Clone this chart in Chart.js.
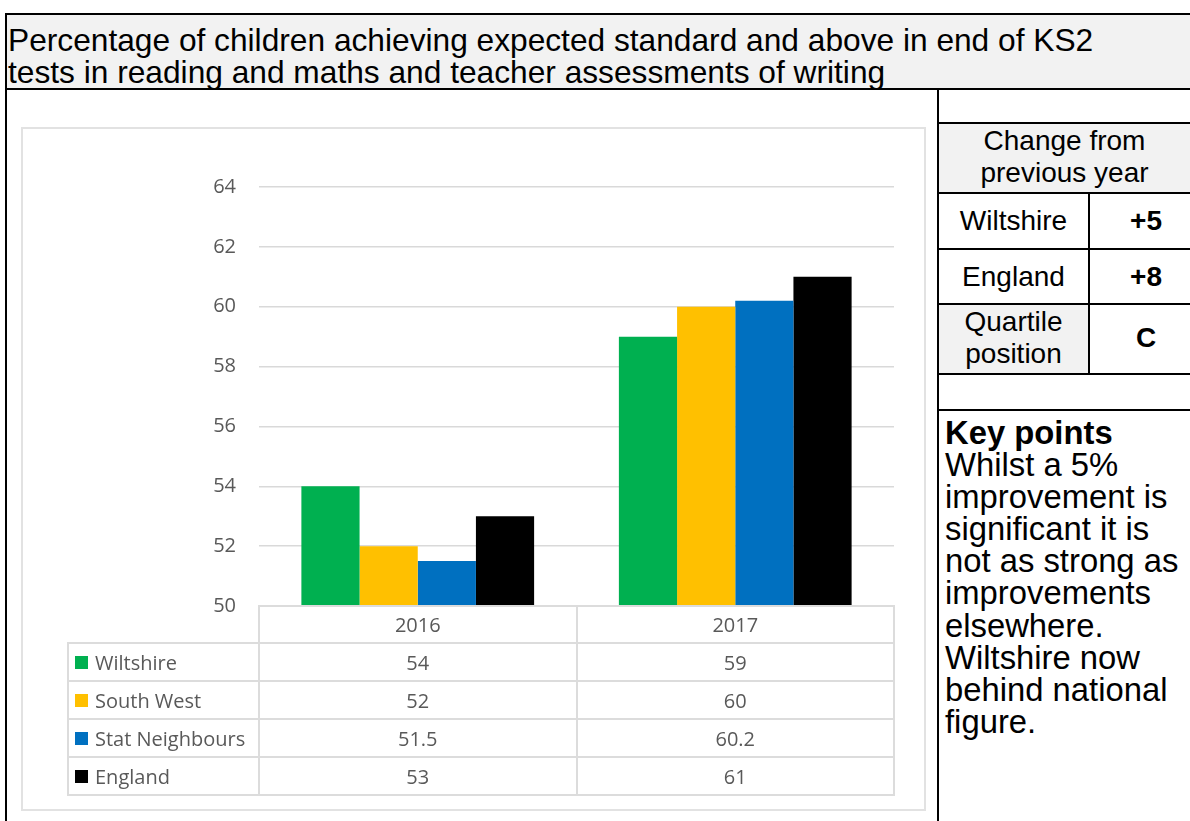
<!DOCTYPE html>
<html>
<head>
<meta charset="utf-8">
<script src="https://cdn.jsdelivr.net/npm/chart.js@4.4.1/dist/chart.umd.min.js"></script>
<style>
html,body{margin:0;padding:0;background:#fff;}
body{width:1190px;height:821px;overflow:hidden;position:relative;font-family:"Liberation Sans",Arial,sans-serif;color:#000;}
.ln{position:absolute;background:#000;}
.gray{position:absolute;background:#f2f2f2;}
.txt{position:absolute;white-space:nowrap;}
#title{left:8px;top:24px;font-size:31.7px;line-height:32px;}
.rc{font-size:28px;line-height:32px;text-align:center;}
#key{left:945px;top:417px;font-size:32.8px;line-height:32.1px;}
#box{position:absolute;left:21px;top:127px;width:901px;height:680px;border:2px solid #e2e2e2;}
#box canvas{position:absolute;left:0;top:0;}
.cell{position:absolute;box-sizing:border-box;border:2px solid #dcdcdc;display:flex;align-items:center;justify-content:center;font-family:"Open Sans",sans-serif;font-size:20px;color:#595959;white-space:nowrap;}
.cell.lab{justify-content:flex-start;padding-left:6px;}
.sw{display:inline-block;width:13px;height:13px;margin-right:7px;}
</style>
</head>
<body>
<!-- frame -->
<div class="gray" style="left:7px;top:15px;width:1183px;height:73px;"></div>
<div class="ln" style="left:5px;top:13px;width:1185px;height:2px;"></div>
<div class="ln" style="left:5px;top:13px;width:2px;height:808px;"></div>
<div class="ln" style="left:5px;top:88px;width:1185px;height:2px;"></div>
<div class="txt" id="title">Percentage of children achieving expected standard and above in end of KS2<br>tests in reading and maths and teacher assessments of writing</div>

<!-- right column -->
<div class="gray" style="left:939px;top:124px;width:251px;height:68px;"></div>
<div class="gray" style="left:939px;top:305px;width:149px;height:68px;"></div>
<div class="ln" style="left:937px;top:88px;width:2px;height:733px;"></div>
<div class="ln" style="left:937px;top:122px;width:253px;height:2px;"></div>
<div class="ln" style="left:937px;top:192px;width:253px;height:2px;"></div>
<div class="ln" style="left:937px;top:248px;width:253px;height:2px;"></div>
<div class="ln" style="left:937px;top:303px;width:253px;height:2px;"></div>
<div class="ln" style="left:937px;top:373px;width:253px;height:2px;"></div>
<div class="ln" style="left:937px;top:409px;width:253px;height:2px;"></div>
<div class="ln" style="left:1088px;top:192px;width:2px;height:183px;"></div>

<div class="txt rc" style="left:939px;top:125px;width:251px;">Change from<br>previous year</div>
<div class="txt rc" style="left:939px;top:205px;width:149px;">Wiltshire</div>
<div class="txt rc" style="left:1090px;top:205px;width:112px;font-weight:bold;">+5</div>
<div class="txt rc" style="left:939px;top:261px;width:149px;">England</div>
<div class="txt rc" style="left:1090px;top:261px;width:112px;font-weight:bold;">+8</div>
<div class="txt rc" style="left:939px;top:306px;width:149px;">Quartile<br>position</div>
<div class="txt rc" style="left:1090px;top:322px;width:112px;font-weight:bold;">C</div>

<div class="txt" id="key"><b>Key points</b><br>Whilst a 5%<br>improvement is<br>significant it is<br>not as strong as<br>improvements<br>elsewhere.<br>Wiltshire now<br>behind national<br>figure.</div>

<!-- chart -->
<div id="box"><canvas id="c" width="901" height="680" style="width:901px;height:680px;"></canvas></div>

<script>
// ---- data ----
const categories = ['2016', '2017'];
const seriesNames = ['Wiltshire', 'South West', 'Stat Neighbours', 'England'];
const wiltshire = [54, 59];
const southWest = [52, 60];
const statNeighbours = [51.5, 60.2];
const england = [53, 61];
const yMin = 50, yMax = 64, yStep = 2;
const tableValues = [['54', '59'], ['52', '60'], ['51.5', '60.2'], ['53', '61']];

// ---- styles ----
const seriesColors = ['#00B050', '#FFC000', '#0070C0', '#000000'];
const seriesValues = [wiltshire, southWest, statNeighbours, england];

const chart = new Chart(document.getElementById('c'), {
  type: 'bar',
  data: {
    labels: categories,
    datasets: seriesNames.map((n, i) => ({
      label: n,
      data: seriesValues[i],
      backgroundColor: seriesColors[i],
      borderWidth: 0,
      categoryPercentage: 0.733,
      barPercentage: 1.0
    }))
  },
  options: {
    responsive: false,
    animation: false,
    layout: { padding: { left: 0, right: 30, top: 58, bottom: 203 } },
    plugins: { legend: { display: false }, tooltip: { enabled: false } },
    scales: {
      x: { display: false },
      y: {
        min: yMin, max: yMax,
        ticks: { stepSize: yStep, color: '#595959', font: { family: 'Open Sans', size: 20 }, padding: 23 },
        grid: { color: '#d9d9d9', lineWidth: 1.5, drawTicks: false },
        border: { display: false },
        afterFit(s) { s.width = 236; }
      }
    }
  }
});

// ---- data table under the chart, aligned to the library's scales ----
(function buildTable() {
  const box = document.getElementById('box');
  const ca = chart.chartArea;
  const xs = chart.scales.x;
  const c0 = xs.getPixelForValue(0), c1 = xs.getPixelForValue(1);
  const half = (c1 - c0) / 2;
  const edges = [c0 - half, c0 + half, c1 + half];
  const headH = 37, rowH = 38, labW = 191;
  function cell(x, y, w, h, html, cls) {
    const d = document.createElement('div');
    d.className = 'cell' + (cls ? ' ' + cls : '');
    d.style.left = (x - 1) + 'px';
    d.style.top = (y - 1) + 'px';
    d.style.width = (w + 2) + 'px';
    d.style.height = (h + 2) + 'px';
    d.innerHTML = html;
    box.appendChild(d);
  }
  categories.forEach((c, i) => cell(edges[i], ca.bottom, edges[i + 1] - edges[i], headH, c));
  seriesNames.forEach((n, r) => {
    const y = ca.bottom + headH + r * rowH;
    cell(ca.left - labW, y, labW, rowH,
      '<span class="sw" style="background:' + seriesColors[r] + '"></span>' + n, 'lab');
    categories.forEach((c, i) => cell(edges[i], y, edges[i + 1] - edges[i], rowH, tableValues[r][i]));
  });
})();
</script>
</body>
</html>
